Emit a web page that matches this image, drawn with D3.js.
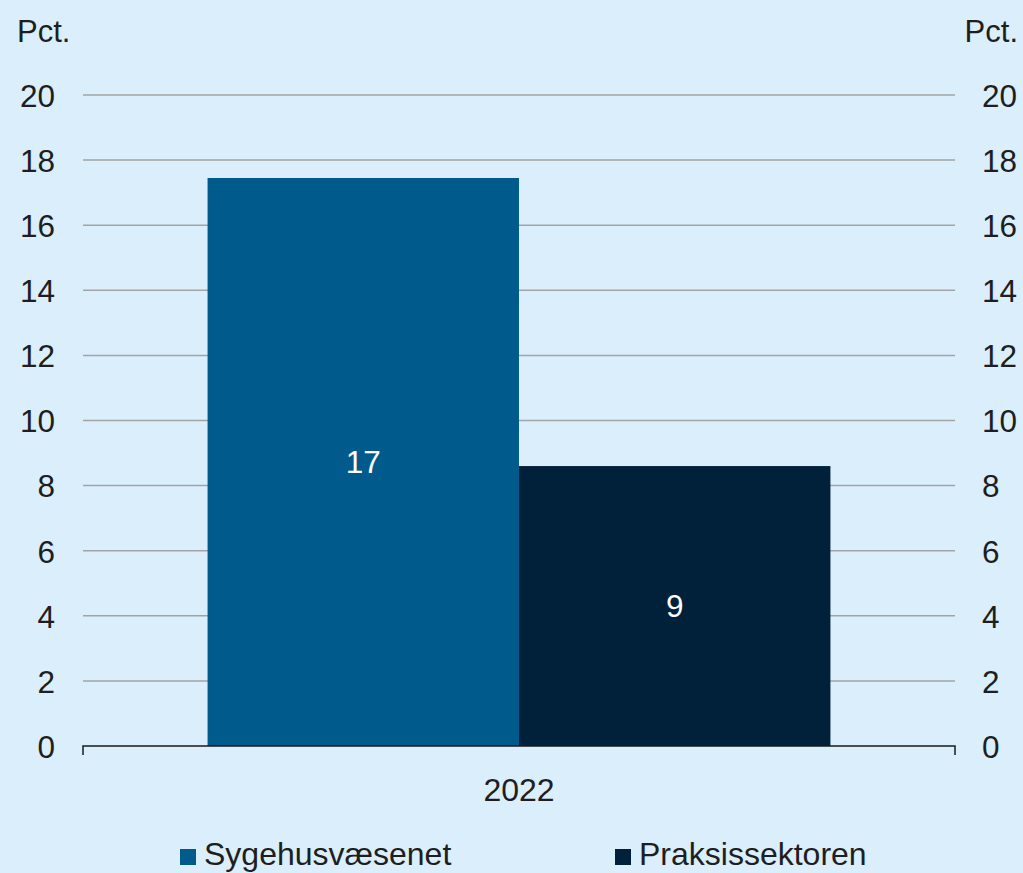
<!DOCTYPE html>
<html>
<head>
<meta charset="utf-8">
<script src="https://cdn.jsdelivr.net/npm/d3@7"></script>
<style>
  body { margin: 0; background: #daeefc; }
  text { font-family: "Liberation Sans", Arial, sans-serif; fill: #1e1e1e; }
</style>
</head>
<body>
<div id="chart"></div>
<script>
const years = ["2022"];
const seriesNames = ["Sygehusvæsenet", "Praksissektoren"];
const seriesValues = [17.45, 8.6];
const valueLabels = ["17", "9"];
const yTicks = [0, 2, 4, 6, 8, 10, 12, 14, 16, 18, 20];
const seriesColors = ["#005b8c", "#002139"];

const width = 1023, height = 873;
const plot = { left: 83, right: 955, top: 95, bottom: 746 };

const svg = d3.select("#chart")
  .append("svg")
  .attr("width", width)
  .attr("height", height);

svg.append("rect")
  .attr("width", width)
  .attr("height", height)
  .attr("fill", "#daeefc");

const y = d3.scaleLinear()
  .domain([0, 20])
  .range([plot.bottom, plot.top]);

const x0 = d3.scaleBand()
  .domain(years)
  .range([plot.left, plot.right])
  .paddingInner(0)
  .paddingOuter(0.2);

const x1 = d3.scaleBand()
  .domain(seriesNames)
  .range([0, x0.bandwidth()])
  .padding(0);

// gridlines
svg.append("g")
  .selectAll("line")
  .data(yTicks.filter(d => d > 0))
  .join("line")
  .attr("x1", plot.left)
  .attr("x2", plot.right)
  .attr("y1", d => y(d))
  .attr("y2", d => y(d))
  .attr("stroke", "#a3a3a3")
  .attr("stroke-width", 1.5);

// left + right tick labels
const leftAxis = d3.axisLeft(y).tickValues(yTicks).tickSize(0).tickPadding(0);
const gl = svg.append("g")
  .attr("transform", "translate(55,0)")
  .call(leftAxis);
gl.select(".domain").remove();
gl.selectAll("text").style("font-size", "31.5px").attr("dy", "0.36em");

const rightAxis = d3.axisRight(y).tickValues(yTicks).tickSize(0).tickPadding(0);
const gr = svg.append("g")
  .attr("transform", "translate(982,0)")
  .call(rightAxis);
gr.select(".domain").remove();
gr.selectAll("text").style("font-size", "31.5px").attr("dy", "0.36em");

svg.append("text")
  .attr("x", 17).attr("y", 42)
  .style("font-size", "31px")
  .text("Pct.");
svg.append("text")
  .attr("x", 1018).attr("y", 42)
  .attr("text-anchor", "end")
  .style("font-size", "31px")
  .text("Pct.");

// bars
const groups = svg.append("g")
  .selectAll("g")
  .data(years)
  .join("g")
  .attr("transform", d => `translate(${x0(d)},0)`);

groups.selectAll("rect")
  .data(seriesNames.map((s, i) => ({ s, v: seriesValues[i], c: seriesColors[i] })))
  .join("rect")
  .attr("x", d => x1(d.s))
  .attr("y", d => y(d.v))
  .attr("width", x1.bandwidth())
  .attr("height", d => y(0) - y(d.v))
  .attr("fill", d => d.c);

groups.selectAll("text.val")
  .data(seriesNames.map((s, i) => ({ s, v: seriesValues[i], t: valueLabels[i] })))
  .join("text")
  .attr("class", "val")
  .attr("x", d => x1(d.s) + x1.bandwidth() / 2)
  .attr("y", d => (y(d.v) + y(0)) / 2)
  .attr("dy", "0.36em")
  .attr("text-anchor", "middle")
  .style("font-size", "31.5px")
  .style("fill", "#ffffff")
  .text(d => d.t);

// x axis baseline with end ticks
svg.append("path")
  .attr("d", `M${plot.left},${plot.bottom + 9}V${plot.bottom}H${plot.right}V${plot.bottom + 9}`)
  .attr("fill", "none")
  .attr("stroke", "#1a1a1a")
  .attr("stroke-width", 1.5);

svg.append("g")
  .selectAll("text")
  .data(years)
  .join("text")
  .attr("x", d => x0(d) + x0.bandwidth() / 2)
  .attr("y", 801)
  .attr("text-anchor", "middle")
  .style("font-size", "32px")
  .text(d => d);

// legend
const legendX = [180, 615];
const legend = svg.append("g")
  .selectAll("g")
  .data(seriesNames)
  .join("g")
  .attr("transform", (d, i) => `translate(${legendX[i]},849)`);
legend.append("rect")
  .attr("width", 16).attr("height", 16)
  .attr("fill", (d, i) => seriesColors[i]);
legend.append("text")
  .attr("x", 24).attr("y", 16)
  .style("font-size", "32px")
  .text(d => d);
</script>
</body>
</html>
